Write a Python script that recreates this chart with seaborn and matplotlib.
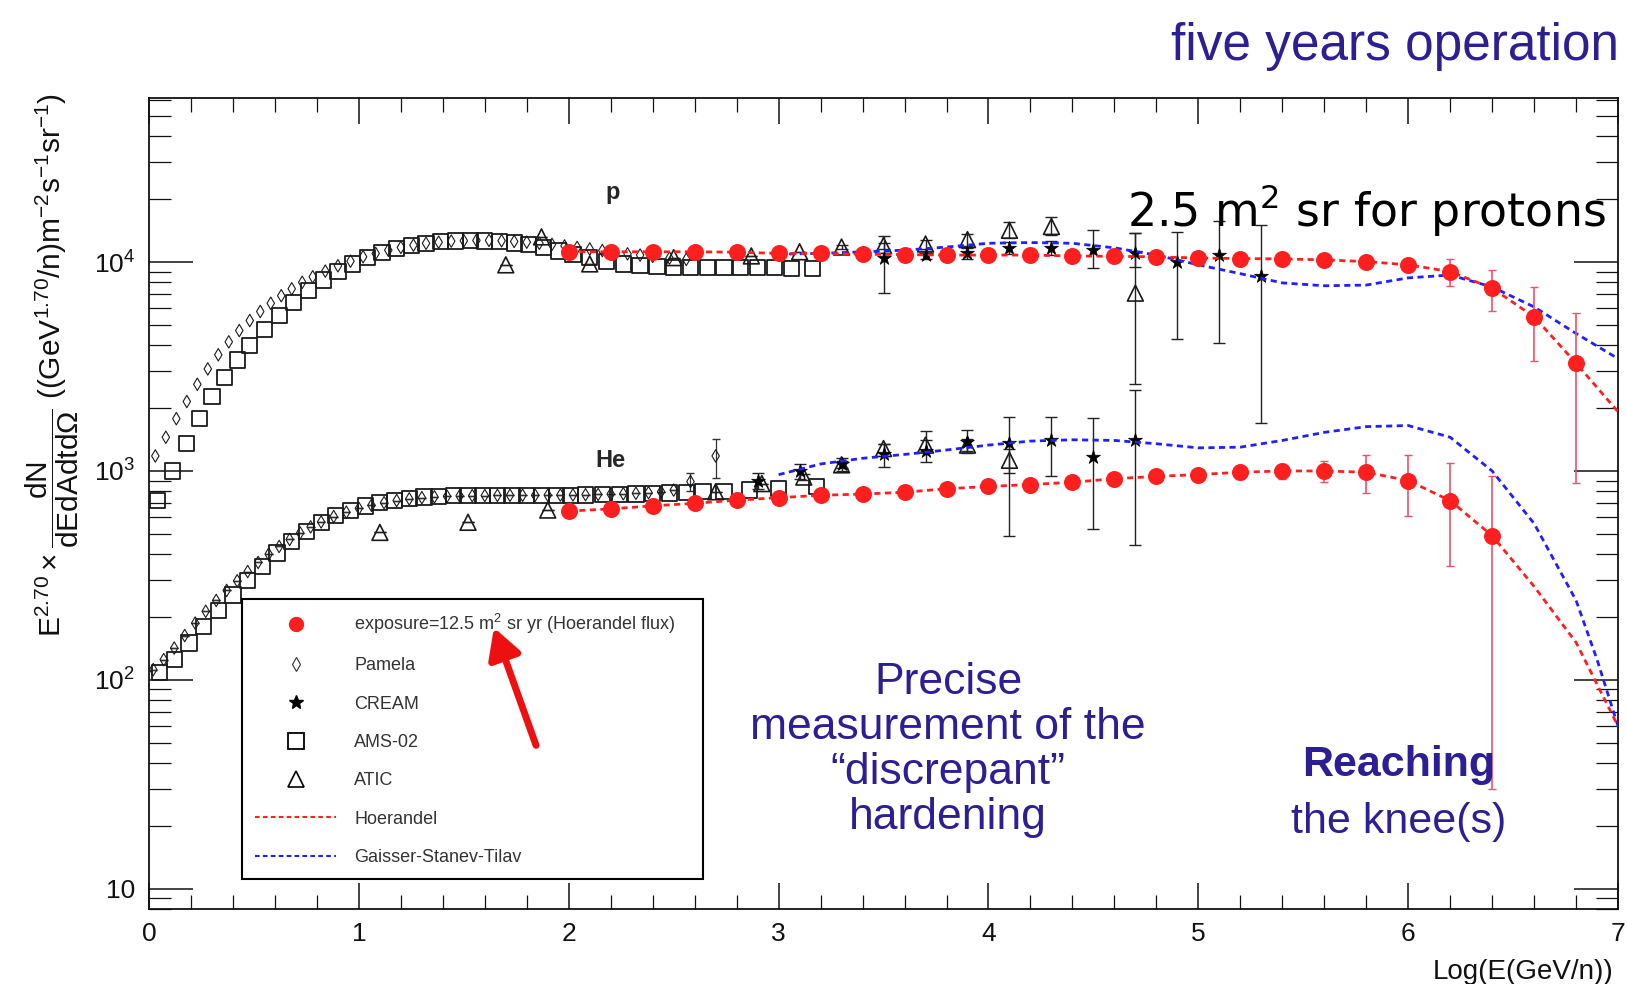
import numpy as np
import pandas as pd
import matplotlib
matplotlib.use("Agg")
import matplotlib.pyplot as plt
import seaborn as sns
from matplotlib.lines import Line2D
from matplotlib.patches import FancyArrowPatch
from matplotlib.ticker import FixedLocator, FixedFormatter, MultipleLocator, LogLocator, NullFormatter

# ---------------------------------------------------------------- data
# x = log10(E / (GeV/n)),  y = E^2.70 dN/dE  ((GeV^1.70/n) m^-2 s^-1 sr^-1)

# projected five-year measurement (Hoerandel flux), protons
proj_p_x = [2.0, 2.2, 2.4, 2.6, 2.8, 3.0, 3.2, 3.4, 3.6, 3.8, 4.0, 4.2, 4.4,
            4.6, 4.8, 5.0, 5.2, 5.4, 5.6, 5.8, 6.0, 6.2, 6.4, 6.6, 6.8]
proj_p_y = [11200, 11200, 11200, 11200, 11150, 11000, 11000, 10900, 10850, 10800,
            10800, 10800, 10700, 10650, 10600, 10450, 10400, 10350, 10250, 10050,
            9700, 9000, 7500, 5470, 3280]
proj_p_err = [0, 0, 0, 0, 0, 0, 0, 0, 0, 0, 0, 0, 0, 0, 0, 150, 200, 250, 300, 350,
              600, 1300, 1700, 2100, 2400]

# projected five-year measurement (Hoerandel flux), helium
proj_he_x = [2.0, 2.2, 2.4, 2.6, 2.8, 3.0, 3.2, 3.4, 3.6, 3.8, 4.0, 4.2, 4.4,
             4.6, 4.8, 5.0, 5.2, 5.4, 5.6, 5.8, 6.0, 6.2, 6.4]
proj_he_y = [643, 658, 681, 700, 725, 745, 765, 775, 791, 822, 843, 861, 883,
             918, 942, 961, 986, 1000, 1000, 986, 900, 721, 490]
proj_he_err = [0, 0, 0, 0, 0, 0, 0, 0, 0, 0, 0, 20, 30, 40, 50, 60, 70, 80, 110,
               200, 290, 370, 460]

# Hoerandel model curves
hoer_p_x = proj_p_x + [7.0]
hoer_p_y = proj_p_y + [1920]
hoer_he_x = proj_he_x + [6.6, 6.8, 7.0]
hoer_he_y = proj_he_y + [280, 151, 60]

# Gaisser-Stanev-Tilav model curves
gst_p_x = [3.0, 3.2, 3.4, 3.6, 3.8, 4.0, 4.2, 4.4, 4.6, 4.8, 5.0, 5.2, 5.4, 5.6,
           5.8, 6.0, 6.2, 6.4, 6.6, 6.8, 7.0]
gst_p_y = [10900, 11000, 11200, 11400, 11800, 12300, 12400, 12300, 11700, 10800,
           9700, 8800, 7950, 7700, 7760, 8400, 8670, 7600, 6100, 4550, 3450]
gst_he_x = [3.0, 3.2, 3.4, 3.6, 3.8, 4.0, 4.2, 4.4, 4.6, 4.8, 5.0, 5.2, 5.4, 5.6,
            5.8, 6.0, 6.2, 6.4, 6.6, 6.8, 6.9, 7.0]
gst_he_y = [960, 1080, 1150, 1200, 1260, 1330, 1390, 1410, 1400, 1350, 1290, 1300,
            1400, 1530, 1630, 1650, 1450, 1000, 560, 240, 125, 60]

# Pamela
pam_p_x = [0.03, 0.08, 0.13, 0.18, 0.23, 0.28, 0.33, 0.38, 0.43, 0.48, 0.53, 0.58,
           0.63, 0.68, 0.73, 0.78, 0.84, 0.90, 0.96, 1.02, 1.08, 1.14, 1.20, 1.26,
           1.32, 1.38, 1.44, 1.50, 1.56, 1.62, 1.68, 1.74, 1.80, 1.86, 1.92, 1.98,
           2.04, 2.10, 2.16, 2.22, 2.28, 2.34, 2.40, 2.48, 2.56]
pam_p_y = [1180, 1450, 1780, 2150, 2600, 3080, 3600, 4150, 4700, 5250, 5800, 6350,
           6900, 7450, 8000, 8500, 9050, 9600, 10100, 10600, 11000, 11400, 11750,
           12050, 12300, 12450, 12600, 12650, 12700, 12700, 12650, 12550, 12450,
           12300, 12150, 11950, 11750, 11550, 11350, 11150, 10950, 10800, 10650,
           10450, 10300]
pam_he_x = [0.02, 0.07, 0.12, 0.17, 0.22, 0.27, 0.32, 0.37, 0.42, 0.47, 0.52, 0.57,
            0.62, 0.67, 0.72, 0.77, 0.82, 0.88, 0.94, 1.00, 1.06, 1.12, 1.18, 1.24,
            1.30, 1.36, 1.42, 1.48, 1.54, 1.60, 1.66, 1.72, 1.78, 1.84, 1.90, 1.96,
            2.02, 2.08, 2.14, 2.20, 2.26, 2.32, 2.38, 2.44, 2.50, 2.58, 2.70]
pam_he_y = [112, 125, 142, 163, 187, 213, 240, 268, 298, 330, 365, 400, 435, 470,
            505, 540, 570, 605, 635, 662, 685, 705, 722, 735, 745, 752, 757, 760,
            762, 763, 764, 765, 765, 765, 766, 767, 768, 770, 772, 775, 778, 782,
            787, 795, 810, 890, 1180]
pam_he_err = [0] * 45 + [90, 250]

# AMS-02
ams_p_x = [0.04, 0.11, 0.18, 0.24, 0.30, 0.36, 0.42, 0.48, 0.55, 0.62, 0.69, 0.76,
           0.83, 0.90, 0.97, 1.04, 1.11, 1.18, 1.25, 1.32, 1.39, 1.46, 1.53, 1.60,
           1.67, 1.74, 1.81, 1.88, 1.95, 2.02, 2.10, 2.18, 2.26, 2.34, 2.42, 2.50,
           2.58, 2.66, 2.74, 2.82, 2.90, 2.98, 3.06, 3.16]
ams_p_y = [720, 1000, 1350, 1780, 2280, 2800, 3400, 4000, 4750, 5550, 6400, 7300,
           8200, 9000, 9800, 10500, 11100, 11600, 12000, 12300, 12500, 12600, 12650,
           12600, 12500, 12350, 12100, 11700, 11300, 10900, 10500, 10100, 9800,
           9600, 9500, 9450, 9400, 9400, 9450, 9450, 9400, 9400, 9350, 9350]
ams_he_x = [0.05, 0.12, 0.19, 0.26, 0.33, 0.40, 0.47, 0.54, 0.61, 0.68, 0.75, 0.82,
            0.89, 0.96, 1.03, 1.10, 1.17, 1.24, 1.31, 1.38, 1.45, 1.52, 1.59, 1.66,
            1.73, 1.80, 1.87, 1.94, 2.01, 2.08, 2.16, 2.24, 2.32, 2.40, 2.48, 2.56,
            2.64, 2.74, 2.86, 3.00, 3.18]
ams_he_y = [108, 125, 150, 180, 215, 255, 300, 350, 405, 460, 515, 565, 610, 648,
            680, 705, 725, 740, 750, 756, 760, 762, 763, 763, 763, 763, 763, 764,
            765, 767, 769, 772, 776, 780, 785, 790, 795, 800, 810, 825, 840]

# ATIC
atic_p_x = [1.70, 1.87, 2.10, 2.50, 2.87, 3.10, 3.30, 3.50, 3.70, 3.90, 4.10, 4.30, 4.70]
atic_p_y = [9700, 13200, 9800, 10500, 10700, 11200, 11800, 12000, 12200, 12800,
            14200, 14800, 7100]
atic_p_lo = [0, 0, 0, 0, 0, 0, 300, 400, 600, 800, 1200, 1300, 4500]
atic_p_hi = [0, 0, 0, 0, 0, 0, 300, 400, 600, 900, 1400, 1600, 6700]
atic_he_x = [1.10, 1.52, 1.90, 2.70, 2.92, 3.12, 3.30, 3.50, 3.70, 3.90, 4.10]
atic_he_y = [508, 568, 650, 795, 870, 935, 1070, 1280, 1330, 1330, 1125]
atic_he_lo = [0, 0, 0, 0, 0, 30, 40, 60, 80, 90, 150]
atic_he_hi = [0, 0, 0, 0, 0, 30, 40, 60, 80, 90, 150]

# CREAM
cream_p_x = [3.5, 3.7, 3.9, 4.1, 4.3, 4.5, 4.7, 4.9, 5.1, 5.3]
cream_p_y = [10500, 10800, 11000, 11700, 11700, 11400, 11000, 10000, 10800, 8600]
cream_p_lo = [3400, 500, 700, 800, 900, 2000, 1500, 5700, 6700, 6900]
cream_p_hi = [2800, 500, 700, 800, 900, 2900, 2800, 4000, 4900, 6500]
cream_he_x = [2.9, 3.1, 3.3, 3.5, 3.7, 3.9, 4.1, 4.3, 4.5, 4.7]
cream_he_y = [900, 1000, 1080, 1200, 1250, 1370, 1360, 1400, 1165, 1400]
cream_he_lo = [80, 80, 80, 150, 150, 150, 870, 450, 635, 960]
cream_he_hi = [80, 80, 80, 150, 310, 200, 450, 410, 625, 1030]

y_ticks = [10, 100, 1000, 10000]
y_tick_labels = ["10", "$10^{2}$", "$10^{3}$", "$10^{4}$"]
x_ticks = [0, 1, 2, 3, 4, 5, 6, 7]

legend_labels = ["exposure=12.5 m$^{2}$ sr yr (Hoerandel flux)", "Pamela", "CREAM",
                 "AMS-02", "ATIC", "Hoerandel", "Gaisser-Stanev-Tilav"]

# ---------------------------------------------------------------- style
sns.set_theme(style="white")
plt.rcParams["font.family"] = ["Liberation Sans", "DejaVu Sans"]
plt.rcParams["mathtext.fontset"] = "custom"
plt.rcParams["mathtext.rm"] = "Liberation Sans"
plt.rcParams["mathtext.it"] = "Liberation Sans:italic"
plt.rcParams["mathtext.bf"] = "Liberation Sans:bold"
plt.rcParams["mathtext.default"] = "regular"

RED = "#ff1f1f"
ERR_RED = "#f0506a"
BLUE = "#1f1fff"
TXT_BLUE = "#2c1f96"

fig = plt.figure(figsize=(16.27, 9.84), dpi=100)
fig.patch.set_facecolor("white")
ax = fig.add_axes([0.0916, 0.0762, 0.9029, 0.8242])
ax.set_yscale("log")

# ---------------------------------------------------------------- existing measurements
open_kw = dict(facecolor="none", edgecolor="#1a1a1a", ax=ax, legend=False, zorder=3)
ax.errorbar(pam_he_x, pam_he_y, yerr=pam_he_err, fmt="none", ecolor="#333333",
            elinewidth=0.9, capsize=3, zorder=3)
sns.scatterplot(x=pam_p_x, y=pam_p_y, marker="d", s=40, linewidth=0.8, **open_kw)
sns.scatterplot(x=pam_he_x, y=pam_he_y, marker="d", s=40, linewidth=0.8, **open_kw)
sns.scatterplot(x=ams_p_x, y=ams_p_y, marker="s", s=120, linewidth=1.3, **open_kw)
sns.scatterplot(x=ams_he_x, y=ams_he_y, marker="s", s=120, linewidth=1.3, **open_kw)

ax.errorbar(atic_p_x, atic_p_y, yerr=[atic_p_lo, atic_p_hi], fmt="none",
            ecolor="#222222", elinewidth=1.0, capsize=4, zorder=3)
ax.errorbar(atic_he_x, atic_he_y, yerr=[atic_he_lo, atic_he_hi], fmt="none",
            ecolor="#222222", elinewidth=1.0, capsize=4, zorder=3)
sns.scatterplot(x=atic_p_x, y=atic_p_y, marker="^", s=130, linewidth=1.2, **open_kw)
sns.scatterplot(x=atic_he_x, y=atic_he_y, marker="^", s=130, linewidth=1.2, **open_kw)

ax.errorbar(cream_p_x, cream_p_y, yerr=[cream_p_lo, cream_p_hi], fmt="none",
            ecolor="#222222", elinewidth=1.0, capsize=4, zorder=3)
ax.errorbar(cream_he_x, cream_he_y, yerr=[cream_he_lo, cream_he_hi], fmt="none",
            ecolor="#222222", elinewidth=1.0, capsize=4, zorder=3)
sns.scatterplot(x=cream_p_x, y=cream_p_y, marker="*", s=110, color="black",
                edgecolor="black", linewidth=0.5, ax=ax, legend=False, zorder=4)
sns.scatterplot(x=cream_he_x, y=cream_he_y, marker="*", s=110, color="black",
                edgecolor="black", linewidth=0.5, ax=ax, legend=False, zorder=4)

# ---------------------------------------------------------------- model curves
dash = (0, (2.2, 1.6))
for xs, ys, col in [(gst_p_x, gst_p_y, BLUE), (gst_he_x, gst_he_y, BLUE),
                    (hoer_p_x, hoer_p_y, RED), (hoer_he_x, hoer_he_y, RED)]:
    sns.lineplot(x=xs, y=ys, estimator=None, sort=False, color=col, linewidth=2.0,
                 linestyle=dash, ax=ax, legend=False, zorder=5)

# ---------------------------------------------------------------- projected points
ax.errorbar(proj_p_x, proj_p_y, yerr=proj_p_err, fmt="none", ecolor=ERR_RED,
            elinewidth=1.2, capsize=3, zorder=6)
ax.errorbar(proj_he_x, proj_he_y, yerr=proj_he_err, fmt="none", ecolor=ERR_RED,
            elinewidth=1.2, capsize=3, zorder=6)
sns.scatterplot(x=proj_p_x, y=proj_p_y, marker="o", s=150, color=RED, edgecolor=RED,
                linewidth=0, ax=ax, legend=False, zorder=7)
sns.scatterplot(x=proj_he_x, y=proj_he_y, marker="o", s=150, color=RED, edgecolor=RED,
                linewidth=0, ax=ax, legend=False, zorder=7)

# ---------------------------------------------------------------- axes
ax.set_xlim(0, 7)
ax.set_ylim(8.0, 6.1e4)
ax.set_xlabel("")
ax.set_ylabel("")
ax.xaxis.set_major_locator(FixedLocator(x_ticks))
ax.xaxis.set_minor_locator(MultipleLocator(0.2))
ax.yaxis.set_major_locator(FixedLocator(y_ticks))
ax.yaxis.set_major_formatter(FixedFormatter(y_tick_labels))
ax.yaxis.set_minor_locator(LogLocator(base=10, subs=np.arange(2, 10)))
ax.yaxis.set_minor_formatter(NullFormatter())
ax.tick_params(axis="x", which="major", direction="in", length=19, width=1.1,
               top=True, bottom=True, labelsize=19, pad=9, colors="#111111")
ax.tick_params(axis="x", which="minor", direction="in", length=10, width=0.9,
               top=True, bottom=True, colors="#111111")
ax.tick_params(axis="y", which="major", direction="in", length=32, width=1.1,
               left=True, right=True, labelsize=19, pad=10, colors="#111111")
ax.tick_params(axis="y", which="minor", direction="in", length=16, width=0.9,
               left=True, right=True, colors="#111111")
for sp in ax.spines.values():
    sp.set_color("#111111")
    sp.set_linewidth(1.3)

# axis titles
fig.text(0.992, 0.012, "Log(E(GeV/n))", ha="right", va="center", fontsize=20,
         color="#111111")
fig.text(0.032, 0.629,
         r"$E^{2.70}\times\dfrac{dN}{dEdAdtd\Omega}$ ((GeV$^{1.70}$/n)m$^{-2}$s$^{-1}$sr$^{-1}$)",
         rotation=90, ha="center", va="center", fontsize=21.5, color="#111111")

# species labels
ax.text(2.21, 21500, "p", ha="center", va="center", fontsize=17, fontweight="bold")
ax.text(2.20, 1120, "He", ha="center", va="center", fontsize=17, fontweight="bold")

# ---------------------------------------------------------------- legend
handles = [
    Line2D([], [], marker="o", ls="none", color=RED, ms=10, mec=RED),
    Line2D([], [], marker="d", ls="none", mfc="none", mec="#333333", ms=7, mew=0.8),
    Line2D([], [], marker="*", ls="none", color="black", ms=10),
    Line2D([], [], marker="s", ls="none", mfc="none", mec="black", ms=11, mew=1.3),
    Line2D([], [], marker="^", ls="none", mfc="none", mec="black", ms=11, mew=1.2),
    Line2D([], [], color=RED, lw=1.5, ls=(0, (2.2, 1.6))),
    Line2D([], [], color=BLUE, lw=1.5, ls=(0, (2.2, 1.6))),
]
leg = ax.legend(handles, legend_labels, loc="upper left",
                bbox_to_anchor=(0.0633, 0.0395, 0.3137, 0.3427), mode="expand",
                bbox_transform=ax.transAxes, frameon=True, fancybox=False,
                edgecolor="black", framealpha=1, fontsize=13, handlelength=4.5,
                handletextpad=1.0, labelspacing=1.18, borderpad=0.72, borderaxespad=0)
leg.get_frame().set_linewidth(1.5)
for t in leg.get_texts():
    t.set_color("#333333")

# arrow pointing at the exposure entry
fig.patches.append(FancyArrowPatch(
    posA=(537 / 1627, 1 - 748 / 984), posB=(493 / 1627, 1 - 625 / 984),
    transform=fig.transFigure, arrowstyle="-|>,head_width=10,head_length=18",
    color="#ee1010", lw=5, mutation_scale=1, zorder=10))

# ---------------------------------------------------------------- slide annotations
fig.text(0.995, 0.939, "five years operation", ha="right", va="baseline",
         fontsize=37, color=TXT_BLUE)
fig.text(0.987, 0.770, "2.5 m$^{2}$ sr for protons", ha="right", va="baseline",
         fontsize=33, color="black", family=["DejaVu Sans"])
fig.text(0.5827, 0.238, "Precise\nmeasurement of the\n\u201cdiscrepant\u201d\nhardening",
         ha="center", va="center", multialignment="center", fontsize=32,
         linespacing=1.13, color=TXT_BLUE)
fig.text(0.8595, 0.2226, "Reaching", ha="center", va="center", fontsize=31,
         fontweight="bold", color=TXT_BLUE)
fig.text(0.8595, 0.1647, "the knee(s)", ha="center", va="center", fontsize=31,
         color=TXT_BLUE)

fig.savefig("out.png", dpi=100, facecolor="white")
